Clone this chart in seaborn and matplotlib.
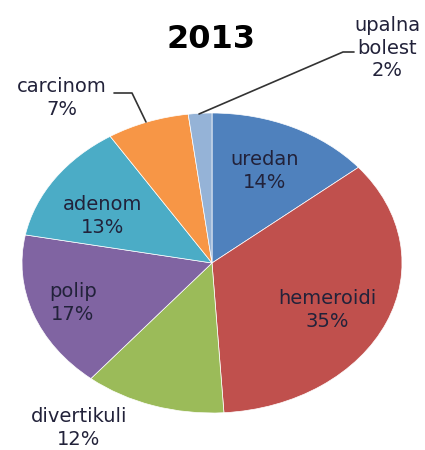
import matplotlib
matplotlib.use("Agg")
import matplotlib.pyplot as plt
import seaborn as sns

# data (2013)
categories = ["uredan", "hemeroidi", "divertikuli", "polip", "adenom", "carcinom", "upalna\nbolest"]
shares = [14, 35, 12, 17, 13, 7, 2]
colors = ["#4F81BD", "#C0504D", "#9BBB59", "#8064A2", "#4BACC6", "#F79646", "#95B3D7"]
title = "2013"

sns.set_theme(style="white")
plt.rcParams["font.family"] = ["DejaVu Sans"]

W, H = 425, 450
fig = plt.figure(figsize=(W / 100, H / 100), dpi=100)

# pie axes, stretched horizontally like the original picture
px_left, px_top, px_right, px_bottom = 22, 113, 402, 413
ax = fig.add_axes([px_left / W, 1 - px_bottom / H, (px_right - px_left) / W, (px_bottom - px_top) / H])
ax.pie(shares, colors=colors, startangle=90, counterclock=False,
       wedgeprops=dict(edgecolor="white", linewidth=0.5))
ax.set_aspect("auto")
ax.set_xlim(-1, 1)
ax.set_ylim(-1, 1)
ax.axis("off")

# overlay in pixel coordinates for labels and leader lines
ov = fig.add_axes([0, 0, 1, 1])
ov.set_xlim(0, W)
ov.set_ylim(H, 0)
ov.axis("off")
ov.patch.set_alpha(0)

txt = "#22223a"
label_pos = {
    "uredan": (265, 171),
    "hemeroidi": (327, 310),
    "divertikuli": (79, 428),
    "polip": (73, 303),
    "adenom": (103, 216),
    "carcinom": (62, 98),
    "upalna\nbolest": (387, 48),
}
for name, val in zip(categories, shares):
    x, y = label_pos[name]
    ov.text(x, y, f"{name}\n{val}%", ha="center", va="center", fontsize=14,
            color=txt, linespacing=1.25)

ov.text(211, 40, title, ha="center", va="center", fontsize=23, fontweight="bold", color="black")

# leader lines
ov.plot([114, 132, 146], [93, 93, 122], color="#333333", lw=1.2)
ov.plot([199, 343, 354], [114, 52, 52], color="#333333", lw=1.2)

fig.savefig("out.png", dpi=100, facecolor="white")
